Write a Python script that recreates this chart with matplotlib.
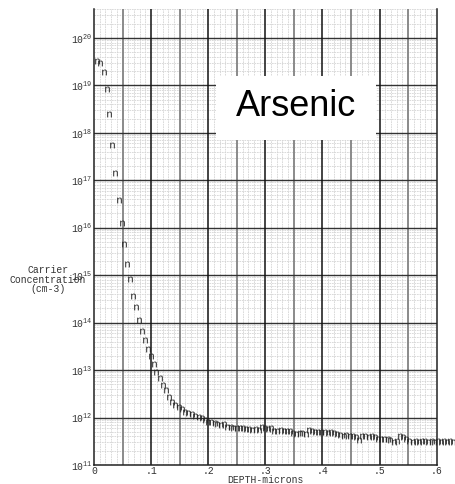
import matplotlib
matplotlib.use('Agg')
import matplotlib.pyplot as plt
from matplotlib.ticker import LogLocator, FixedLocator, NullFormatter, FixedFormatter
from matplotlib.patches import Rectangle

plt.rcParams['font.family'] = ['Liberation Mono', 'DejaVu Sans Mono']
plt.rcParams['mathtext.fontset'] = 'custom'
plt.rcParams['mathtext.rm'] = 'Liberation Mono'
plt.rcParams['mathtext.tt'] = 'Liberation Mono'
plt.rcParams['mathtext.it'] = 'Liberation Mono'

# depth (microns) and carrier concentration (cm-3)
depth_head = [0.005, 0.010, 0.017, 0.022, 0.027, 0.032, 0.037, 0.043, 0.049, 0.053,
              0.058, 0.063, 0.068, 0.074, 0.079, 0.084, 0.089, 0.094, 0.100, 0.105,
              0.109, 0.115, 0.120, 0.126, 0.131]
conc_head = [3.3e19, 2.95e19, 1.9e19, 8.5e18, 2.45e18, 5.6e17, 1.4e17, 3.8e16, 1.26e16, 4.5e15,
             1.74e15, 8.3e14, 3.7e14, 2.1e14, 1.12e14, 6.8e13, 4.4e13, 2.8e13, 2.0e13, 1.32e13,
             9.1e12, 6.9e12, 4.8e12, 3.8e12, 2.7e12]

depth_knee = [0.136, 0.142, 0.148, 0.154, 0.159, 0.165, 0.171, 0.177, 0.183, 0.189,
              0.194, 0.200, 0.205, 0.211, 0.216, 0.222, 0.228]
conc_knee = [2.1e12, 1.86e12, 1.66e12, 1.48e12, 1.32e12, 1.23e12, 1.17e12, 1.10e12, 1.05e12, 9.8e11,
             8.9e11, 8.1e11, 7.9e11, 7.6e11, 7.4e11, 7.1e11, 7.2e11]

depth_tail = [0.233, 0.239, 0.244, 0.250, 0.255, 0.261, 0.266, 0.272, 0.277, 0.283,
              0.288, 0.294, 0.299, 0.305, 0.310, 0.316, 0.321, 0.327, 0.332, 0.338,
              0.343, 0.349, 0.354, 0.360, 0.365, 0.371, 0.376, 0.382, 0.387, 0.393,
              0.398, 0.404, 0.409, 0.415, 0.420, 0.426, 0.431, 0.437, 0.442, 0.448,
              0.453, 0.459, 0.464, 0.470, 0.475, 0.481, 0.486, 0.492, 0.497, 0.503,
              0.508, 0.514, 0.519, 0.525, 0.530, 0.536, 0.541, 0.547, 0.552, 0.558,
              0.563, 0.569, 0.574, 0.580, 0.585, 0.591, 0.596, 0.602, 0.607, 0.613,
              0.618, 0.624, 0.629]
conc_tail = [6.3e11, 6.2e11, 6.0e11, 5.9e11, 6.0e11, 5.9e11, 5.6e11, 5.75e11, 5.5e11, 5.6e11,
             5.5e11, 6.3e11, 5.9e11, 5.75e11, 5.9e11, 5.25e11, 5.1e11, 5.4e11, 5.25e11, 5.1e11,
             5.25e11, 4.7e11, 4.6e11, 4.8e11, 4.7e11, 4.6e11, 5.5e11, 5.1e11, 5.0e11, 4.9e11,
             5.0e11, 4.9e11, 4.8e11, 5.0e11, 4.8e11, 4.6e11, 4.3e11, 4.1e11, 4.2e11, 4.0e11,
             4.1e11, 3.9e11, 3.4e11, 4.0e11, 4.1e11, 3.9e11, 4.0e11, 3.8e11, 3.55e11, 3.6e11,
             3.5e11, 3.55e11, 3.3e11, 3.1e11, 3.15e11, 4.0e11, 3.8e11, 3.6e11, 3.15e11, 3.1e11,
             3.25e11, 3.1e11, 3.15e11, 3.15e11, 3.1e11, 3.15e11, 3.1e11, 3.15e11, 3.1e11, 3.15e11,
             3.1e11, 3.15e11, 3.1e11]

depth = depth_head + depth_knee + depth_tail
conc = conc_head + conc_knee + conc_tail

x_ticks = [0, 0.1, 0.2, 0.3, 0.4, 0.5, 0.6]
x_ticklabels = ['0', '.1', '.2', '.3', '.4', '.5', '.6']
half_lines = [0.05, 0.15, 0.25, 0.35, 0.45, 0.55]
fine_lines = [i / 100 for i in range(61) if i % 5 != 0]
decades = [1e11, 1e12, 1e13, 1e14, 1e15, 1e16, 1e17, 1e18, 1e19, 1e20]

fig = plt.figure(figsize=(4.55, 4.84), dpi=100)
ax = fig.add_axes([0.2066, 0.0393, 0.7532, 0.9421])

ax.set_yscale('log')
ax.set_xlim(0, 0.6)
ax.set_ylim(1e11, 10**20.61)

# graph-paper grid: light fine lines first, heavy lines on top
ax.xaxis.set_major_locator(FixedLocator(x_ticks))
ax.xaxis.set_major_formatter(FixedFormatter(x_ticklabels))
ax.xaxis.set_minor_locator(FixedLocator(fine_lines))
ax.yaxis.set_major_locator(FixedLocator(decades))
ax.yaxis.set_minor_locator(LogLocator(base=10, subs=[2, 3, 4, 5, 6, 7, 8, 9], numticks=20))
ax.yaxis.set_minor_formatter(NullFormatter())
ax.set_axisbelow(True)
ax.grid(which='minor', color='#d4d4d4', lw=0.6, ls=(0, (2, 1)))

for xv in half_lines:
    ax.axvline(xv, color='#8a8a8a', lw=1.4, zorder=1)
for xv in x_ticks[1:-1]:
    ax.axvline(xv, color='#111111', lw=1.1, zorder=1.2)
for yv in decades[1:]:
    ax.axhline(yv, color='#333333', lw=1.0, zorder=1.1)

ax.spines['top'].set_visible(False)
for side in ['left', 'bottom', 'right']:
    ax.spines[side].set_color('#222222')
    ax.spines[side].set_linewidth(1.1)

ax.tick_params(which='both', length=0)
ax.tick_params(axis='y', labelsize=7, pad=1, colors='#333333')
ax.tick_params(axis='x', labelsize=7, pad=1, colors='#333333')

ax.set_xlabel('DEPTH-microns', fontsize=7, color='#333333', labelpad=-1)
fig.text(0.105, 0.422, 'Carrier\nConcentration\n(cm-3)', fontsize=7, color='#333333',
         ha='center', va='center', linespacing=0.95, multialignment='center')

# data points drawn as "n" characters
ax.plot(depth, conc, linestyle='none', marker=r'$\mathtt{n}$', ms=4.2, mew=0,
        color='#222222', clip_on=False, zorder=4)

# element label on a white panel
ax.add_patch(Rectangle((0.2137, 10**17.84), 0.494 - 0.2137, 10**19.19 - 10**17.84,
                       facecolor='white', edgecolor='none', zorder=3))
ax.text(0.353, 10**18.55, 'Arsenic', family='Liberation Sans', fontsize=26,
        ha='center', va='center', color='black', zorder=4)

fig.savefig('out.png', dpi=100)
